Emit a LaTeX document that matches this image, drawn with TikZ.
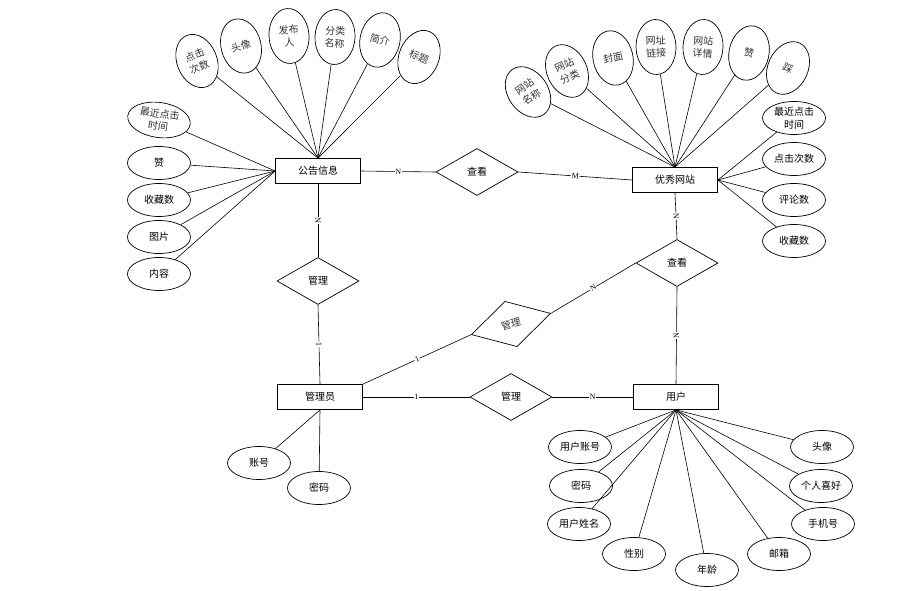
\documentclass[tikz,border=0pt]{standalone}
\usepackage{fontspec}
\setmainfont{Liberation Serif}
\newfontfamily\cjk{Noto Sans CJK SC}
\usetikzlibrary{shapes.geometric}

\newcommand{\zhfont}{\cjk\fontsize{10}{12.5}\selectfont}

\tikzset{
    link/.style={line width=0.6pt},
    entity/.style={draw, line width=0.8pt, minimum width=85pt, minimum height=25pt, inner sep=0pt, font=\zhfont},
    relation/.style={draw, diamond, line width=0.7pt, minimum width=82pt, minimum height=47pt, inner sep=0pt, font=\zhfont},
    attr/.style={draw, ellipse, line width=0.7pt, minimum width=63pt, minimum height=33pt, inner sep=0pt, align=center, font=\zhfont},
    attrv/.style={attr, minimum width=40pt, minimum height=55pt, text=black!80},
    card/.style={sloped, fill=white, inner sep=0.6pt, font=\fontsize{8}{9}\selectfont},
}

\begin{document}
\begin{tikzpicture}[x=1pt,y=-1pt]
    \useasboundingbox (0,0) rectangle (915,591);

    % entities and relations
    \node[entity] (gg) at (318,171) {公告信息};
    \node[entity] (yx) at (675,180) {优秀网站};
    \node[entity] (gly) at (320,397) {管理员};
    \node[entity] (yh) at (676,397) {用户};
    \node[relation] (ck1) at (477,172) {查看};
    \node[relation] (ck2) at (677,263) {查看};
    \node[relation] (gl1) at (318,281) {管理};
    \node[relation, rotate=15, text=black!80] (gl2) at (511,324) {管理};
    \node[relation] (gl3) at (511,397) {管理};

    % connectors
    \draw[link] (gg.east) -- (ck1.west) node[card, pos=0.5] {N};
    \draw[link] (ck1.east) -- (yx.west) node[card, pos=0.5] {M};
    \draw[link] (gg.south) -- (gl1.north) node[card, pos=0.5] {N};
    \draw[link] (gl1.south) -- (gly.north) node[card, pos=0.5] {1};
    \draw[link] (gly.north east) -- (gl2.west) node[card, pos=0.5] {1};
    \draw[link] (gl2.east) -- (ck2.west) node[card, pos=0.5] {N};
    \draw[link] (yx.south) -- (ck2.north) node[card, pos=0.5] {N};
    \draw[link] (ck2.south) -- (yh.north) node[card, pos=0.5] {N};
    \draw[link] (gly.east) -- (gl3.west) node[card, pos=0.5] {1};
    \draw[link] (gl3.east) -- (yh.west) node[card, pos=0.5] {N};

    % attributes of 公告信息
    \foreach \txt/\px/\py/\ang [count=\i] in {{点击\\次数}/197/61/22, 头像/241/46/14, {发布\\人}/289/36/4,
        {分类\\名称}/335/37/-3, 简介/380/40/-12, 标题/419/57/-22} {
        \node[attrv, rotate=\ang] (gt\i) at (\px,\py) {\txt};
        \draw[link] (gt\i) -- (gg.north);
    }
    \node[attr, rotate=-8, text=black!80, minimum height=35pt] (gl0) at (159,120) {最近点击\\时间};
    \draw[link] (gl0) -- (gg.west);
    \foreach \txt/\py [count=\i] in {赞/163, 收藏数/200, 图片/237, 内容/274} {
        \node[attr] (gl\i) at (159,\py) {\txt};
        \draw[link] (gl\i) -- (gg.west);
    }

    % attributes of 优秀网站
    \foreach \txt/\px/\py/\ang [count=\i] in {{网站\\名称}/528/92/35, {网站\\分类}/567/71/25, 封面/613/58/12,
        {网址\\链接}/656/47/2, {网站\\详情}/703/47/-3, 赞/749/53/-12, 踩/788/68/-25} {
        \node[attrv, rotate=\ang] (yt\i) at (\px,\py) {\txt};
        \draw[link] (yt\i) -- (yx.north);
    }
    \foreach \txt/\py [count=\i] in {{最近点击\\时间}/118, 点击次数/159, 评论数/200, 收藏数/241} {
        \node[attr] (yr\i) at (794,\py) {\txt};
        \draw[link] (yr\i) -- (yx.east);
    }

    % attributes of 管理员
    \node[attr] (ga1) at (259,463) {账号};
    \node[attr] (ga2) at (319,488) {密码};
    \draw[link] (ga1) -- (gly.south);
    \draw[link] (ga2) -- (gly.south);

    % attributes of 用户
    \foreach \txt/\px/\py [count=\i] in {用户账号/580/447, 密码/581/486, 用户姓名/579/524, 性别/634/554,
        年龄/707/570, 邮箱/779/554, 手机号/823/524, 个人喜好/821/486, 头像/822/447} {
        \node[attr] (ua\i) at (\px,\py) {\txt};
        \draw[link] (ua\i) -- (yh.south);
    }

\end{tikzpicture}
\end{document}
